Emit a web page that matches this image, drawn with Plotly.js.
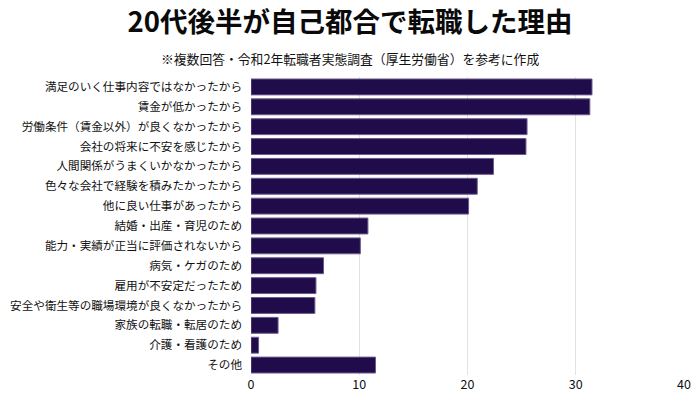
<!DOCTYPE html>
<html><head><meta charset="utf-8">
<script src="https://cdn.plot.ly/plotly-3.0.1.min.js"></script>
<style>html,body{margin:0;padding:0;background:#fff}#chart{width:700px;height:393px}</style>
</head><body><div id="chart"></div>
<script>
const categories = [
  "満足のいく仕事内容ではなかったから",
  "賃金が低かったから",
  "労働条件（賃金以外）が良くなかったから",
  "会社の将来に不安を感じたから",
  "人間関係がうまくいかなかったから",
  "色々な会社で経験を積みたかったから",
  "他に良い仕事があったから",
  "結婚・出産・育児のため",
  "能力・実績が正当に評価されないから",
  "病気・ケガのため",
  "雇用が不安定だったため",
  "安全や衛生等の職場環境が良くなかったから",
  "家族の転職・転居のため",
  "介護・看護のため",
  "その他"
];
const values = [31.5, 31.3, 25.5, 25.4, 22.4, 20.9, 20.1, 10.8, 10.1, 6.7, 6.0, 5.9, 2.5, 0.7, 11.5];
const xTicks = [0, 10, 20, 30, 40];
const titleText = "20代後半が自己都合で転職した理由";
const subtitleText = "※複数回答・令和2年転職者実態調査（厚生労働省）を参考に作成";

const font = '"Noto Sans CJK JP", "Noto Sans", sans-serif';
const L = 251, R = 16, W = 700;
Plotly.newPlot('chart', [{
  type: 'bar',
  orientation: 'h',
  y: categories,
  x: values,
  marker: {color: '#200c4a', line: {color: '#6b5a8e', width: 1}},
  hoverinfo: 'none'
}], {
  width: W, height: 393,
  margin: {l: L, r: R, t: 77, b: 18},
  paper_bgcolor: '#fff', plot_bgcolor: '#fff',
  bargap: 0.2,
  font: {family: font, color: '#111'},
  title: {text: '<b>' + titleText + '</b>', x: 0.5, xanchor: 'center', y: 0.943, yanchor: 'middle',
          font: {family: font, size: 27.5, color: '#0a0a0a'}},
  annotations: [{text: subtitleText, xref: 'paper', yref: 'paper', x: (W / 2 - L) / (W - L - R), y: 1, yshift: 19,
    showarrow: false, xanchor: 'center', yanchor: 'middle', font: {family: font, size: 12.8, color: '#111'}}],
  xaxis: {range: [0, 40], tickvals: xTicks, ticktext: xTicks.map(String), showgrid: true, gridcolor: '#e2e2e2',
          gridwidth: 1, zeroline: false, showline: false, tickfont: {family: font, size: 12.5, color: '#111'}, fixedrange: true},
  yaxis: {autorange: 'reversed', showgrid: false, zeroline: false, ticks: '', ticklabelstandoff: 8,
          tickfont: {family: font, size: 11.6, color: '#111'}, fixedrange: true},
  showlegend: false
}, {displayModeBar: false, staticPlot: true});
</script></body></html>
